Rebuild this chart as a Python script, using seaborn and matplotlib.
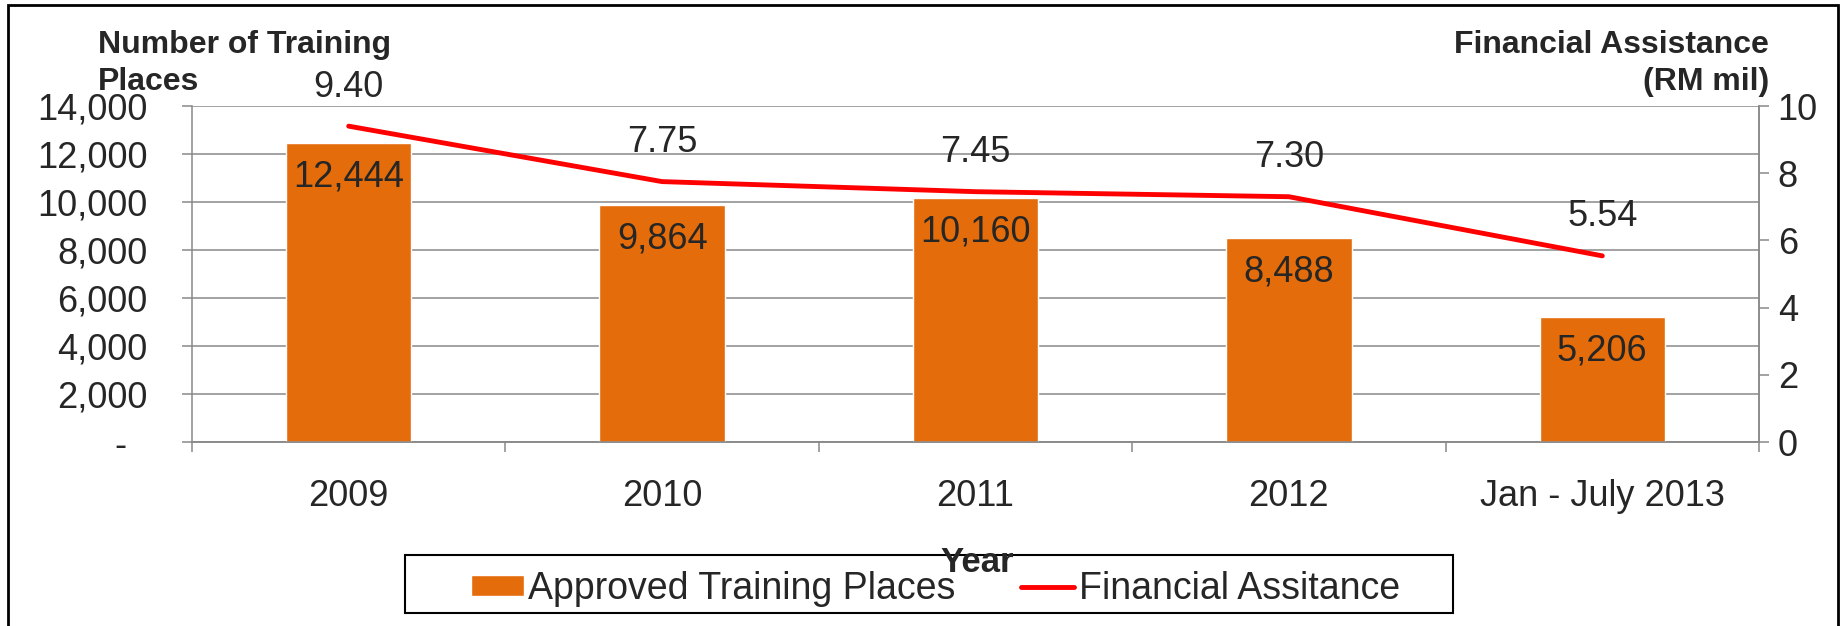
import numpy as np
import pandas as pd
import matplotlib
matplotlib.use("Agg")
import matplotlib.pyplot as plt
import seaborn as sns
from matplotlib.patches import Rectangle
from matplotlib.ticker import FuncFormatter, FixedLocator

# Données du graphique
years = ["2009", "2010", "2011", "2012", "Jan - July 2013"]
training_places = [12444, 9864, 10160, 8488, 5206]
financial_assistance = [9.40, 7.75, 7.45, 7.30, 5.54]

BAR_COLOR = "#E46C0A"
LINE_COLOR = "#FF0000"
GRID_COLOR = "#898989"
W, H = 1845, 626
FS = 26

sns.set_style("white")
plt.rcParams["font.family"] = ["Liberation Sans", "DejaVu Sans"]

df = pd.DataFrame({"Year": years, "Places": training_places, "Assist": financial_assistance})

fig = plt.figure(figsize=(W / 100, H / 100), dpi=100)
ax = fig.add_axes([192 / W, 1 - 442 / H, (1759 - 192) / W, (442 - 106) / H])

sns.barplot(data=df, x="Year", y="Places", color=BAR_COLOR, width=0.4,
            saturation=1, ax=ax, label="Approved Training Places", zorder=3)

ax2 = ax.twinx()
sns.lineplot(data=df, x="Year", y="Assist", color=LINE_COLOR, linewidth=3.5,
             ax=ax2, label="Financial Assitance", sort=False)

# Axe gauche
ax.set_ylim(0, 14000)
ax.set_yticks(np.arange(0, 14001, 2000))
ax.yaxis.set_major_formatter(FuncFormatter(lambda v, p: "-  " if v == 0 else f"{int(v):,}"))
ax.grid(axis="y", color=GRID_COLOR, linewidth=1.1, zorder=0)
ax.set_axisbelow(True)
ax.tick_params(axis="y", which="major", length=7, width=1.1, color=GRID_COLOR,
               labelsize=FS, pad=25, left=True)

# Axe des x
ax.set_xlim(-0.5, len(years) - 0.5)
ax.set_xticks(range(len(years)))
ax.set_xticklabels(years)
ax.xaxis.set_minor_locator(FixedLocator(np.arange(-0.5, len(years), 1.0)))
ax.tick_params(axis="x", which="major", length=0, labelsize=FS, pad=27)
ax.tick_params(axis="x", which="minor", length=7, width=1.1, color=GRID_COLOR, bottom=True)
ax.set_xlabel("")
ax.set_ylabel("")

# Axe droit
ax2.set_ylim(0, 10)
ax2.set_yticks(np.arange(0, 11, 2))
ax2.tick_params(axis="y", length=7, width=1.1, color=GRID_COLOR, labelsize=FS, pad=6.5, right=True)
ax2.set_ylabel("")
ax2.set_xlabel("")

for a in (ax, ax2):
    for side in ("left", "right", "bottom"):
        a.spines[side].set_color(GRID_COLOR)
        a.spines[side].set_linewidth(1.1)
    a.spines["top"].set_visible(False)
ax2.spines["left"].set_visible(False)

# Étiquettes de données
for i, v in enumerate(training_places):
    ax.annotate(f"{v:,}", (i, v), xytext=(0, -24.5), textcoords="offset points",
                ha="center", va="center", fontsize=FS, zorder=5)
for i, v in enumerate(financial_assistance):
    ax2.annotate(f"{v:.2f}", (i, v), xytext=(0, 28), textcoords="offset points",
                 ha="center", va="center", fontsize=FS)

# Titres des axes
fig.text(98 / W, 1 - 53 / H, "Number of Training", ha="left", va="baseline",
         fontsize=23, fontweight="bold")
fig.text(98 / W, 1 - 90 / H, "Places", ha="left", va="baseline",
         fontsize=23, fontweight="bold")
fig.text(1769 / W, 1 - 53 / H, "Financial Assistance", ha="right", va="baseline",
         fontsize=23, fontweight="bold")
fig.text(1769 / W, 1 - 90 / H, "(RM mil)", ha="right", va="baseline",
         fontsize=23, fontweight="bold")

# Légende
for a in (ax, ax2):
    if a.get_legend() is not None:
        a.get_legend().remove()
h1, l1 = ax.get_legend_handles_labels()
h2, l2 = ax2.get_legend_handles_labels()
leg = fig.legend(h1 + h2, l1 + l2, loc="center left", bbox_to_anchor=(471 / W, 1 - 589 / H),
                 ncol=2, fontsize=27, frameon=False, borderpad=0, borderaxespad=0,
                 handlelength=1.4, handleheight=0.5, handletextpad=0.13, columnspacing=1.75)
fig.add_artist(Rectangle((405 / W, 1 - 613 / H), (1453 - 405) / W, (613 - 555) / H,
                         transform=fig.transFigure, fill=False, edgecolor="black", linewidth=1.5))

fig.text(977 / W, 1 - 572 / H, "Year", ha="center", va="baseline",
         fontsize=25, fontweight="bold", zorder=10)

# Cadre extérieur
fig.add_artist(Rectangle((8 / W, -0.02), (1838 - 8) / W, 1 - 5 / H + 0.02,
                         transform=fig.transFigure, fill=False, edgecolor="black", linewidth=2))

fig.savefig("out.png", dpi=100)
